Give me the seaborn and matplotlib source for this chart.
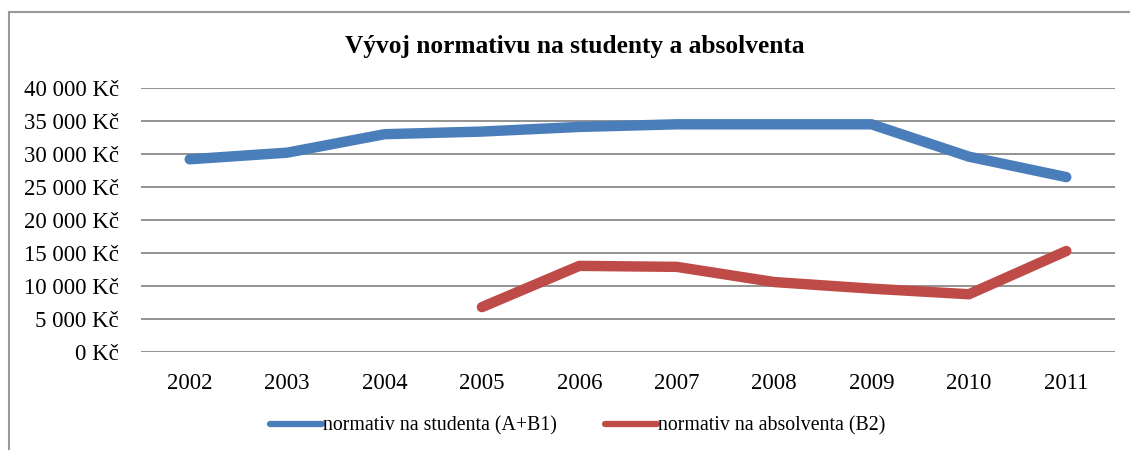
import matplotlib
matplotlib.use("Agg")
import matplotlib.pyplot as plt
import seaborn as sns
import pandas as pd
import numpy as np
from matplotlib.patches import Rectangle
from matplotlib.lines import Line2D

years = ["2002", "2003", "2004", "2005", "2006", "2007", "2008", "2009", "2010", "2011"]
student = [29200, 30200, 33000, 33400, 34100, 34500, 34500, 34500, 29600, 26500]
absolvent = [np.nan, np.nan, np.nan, 6800, 13050, 12900, 10600, 9600, 8750, 15300]
yticks = [0, 5000, 10000, 15000, 20000, 25000, 30000, 35000, 40000]
ytick_labels = ["0 Kč", "5 000 Kč", "10 000 Kč", "15 000 Kč", "20 000 Kč",
                "25 000 Kč", "30 000 Kč", "35 000 Kč", "40 000 Kč"]
series_names = ["normativ na studenta (A+B1)", "normativ na absolventa (B2)"]
title = "Vývoj normativu na studenty a absolventa"
colors = ["#4A7EBB", "#BE4B48"]

sns.set_theme(style="white")
plt.rcParams['font.family'] = ['Liberation Serif', 'DejaVu Serif']
plt.rcParams['text.color'] = 'black'

df = pd.DataFrame({"rok": list(range(len(years))) * 2,
                   "hodnota": student + absolvent,
                   "serie": [series_names[0]] * len(years) + [series_names[1]] * len(years)})

fig = plt.figure(figsize=(11.3, 4.5), dpi=100)
W, H = 1130, 450
ax = fig.add_axes([141 / W, 1 - 352 / H, (1115 - 141) / W, (352 - 88) / H])

sns.lineplot(data=df, x="rok", y="hodnota", hue="serie",
             palette=colors, linewidth=7.5, ax=ax,
             legend=False, solid_capstyle="round", solid_joinstyle="round")

ax.set_xlim(-0.5, len(years) - 0.5)
ax.set_ylim(0, 40000)
ax.set_yticks(yticks)
ax.set_yticklabels(ytick_labels)
ax.set_xticks(range(len(years)))
ax.set_xticklabels(years)
ax.tick_params(axis="both", labelsize=16.5, length=0, colors="black")
ax.tick_params(axis="y", pad=16)
ax.tick_params(axis="x", pad=15)
ax.set_xlabel("")
ax.set_ylabel("")
ax.yaxis.grid(True, color="#8A8A8A", linewidth=1.3)
ax.set_axisbelow(True)
for s in ax.spines.values():
    s.set_visible(False)

fig.text(575 / W, 1 - 47 / H, title, ha="center", va="center",
         fontsize=18.3, fontweight="bold", color="black")

handles = [Line2D([0], [0], color=colors[0], lw=4.5, solid_capstyle="round"),
           Line2D([0], [0], color=colors[1], lw=4.5, solid_capstyle="round")]
fig.legend(handles, series_names, loc="center", bbox_to_anchor=(577.5 / W, 1 - 426 / H),
           ncol=2, frameon=False, fontsize=14.3, handlelength=2.6, handletextpad=0.05,
           columnspacing=2.45, labelcolor="black")

fig.patches.append(Rectangle((8.5 / W, -0.1), 1.2, 1 - 12 / H + 0.1,
                             transform=fig.transFigure, fill=False,
                             edgecolor="#999999", linewidth=1.5))

fig.savefig("out.png", dpi=100)
